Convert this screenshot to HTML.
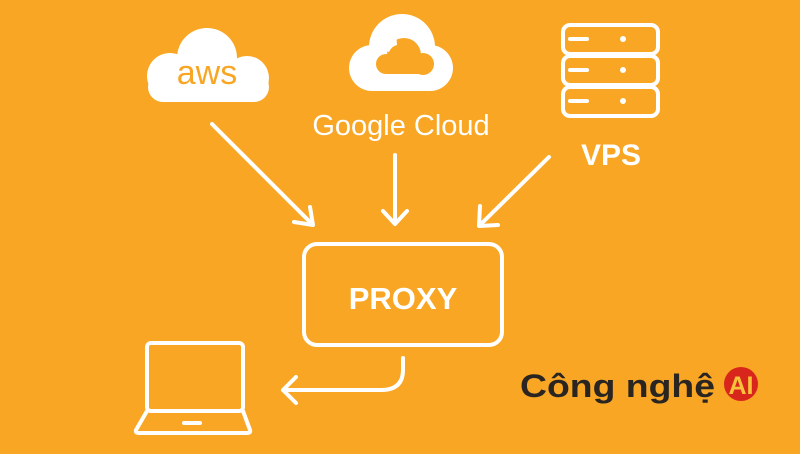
<!DOCTYPE html>
<html><head><meta charset="utf-8"><style>
html,body{margin:0;padding:0;background:#F8A623;}
svg{display:block}
</style></head><body>
<svg width="800" height="454" viewBox="0 0 800 454" xmlns="http://www.w3.org/2000/svg">
<rect width="800" height="454" fill="#F8A623"/>
<!-- AWS cloud -->
<g fill="#FFFFFF">
<circle cx="207" cy="58" r="30"/>
<circle cx="170" cy="76" r="23"/>
<circle cx="247" cy="78" r="22"/>
<rect x="148" y="72" width="121" height="30" rx="15"/>
</g>
<text x="207" y="84" font-family="Liberation Sans, sans-serif" font-size="34" fill="#F8A623" text-anchor="middle">aws</text>
<!-- Google cloud -->
<g fill="#FFFFFF">
<circle cx="402" cy="47" r="33"/>
<circle cx="372" cy="68" r="23"/>
<circle cx="430" cy="68" r="23"/>
<rect x="372" y="60" width="58" height="31"/>
</g>
<g fill="#F8A623">
<circle cx="404" cy="55" r="17"/>
<circle cx="386" cy="64" r="10"/>
<circle cx="423" cy="64" r="11"/>
<rect x="386" y="60" width="37" height="14"/>
</g>
<path d="M378 47 A26 26 0 0 1 396 32 L397 45 A12 12 0 0 0 389 52Z" fill="#FFFFFF"/>
<text x="401" y="135" font-family="Liberation Sans, sans-serif" font-size="29" fill="#FFFFFF" text-anchor="middle">Google Cloud</text>
<!-- Server -->
<g fill="none" stroke="#FFFFFF" stroke-width="4">
<rect x="563" y="25" width="95" height="29" rx="7"/>
<rect x="563" y="56" width="95" height="29" rx="7"/>
<rect x="563" y="87" width="95" height="29" rx="7"/>
</g>
<g stroke="#FFFFFF" stroke-width="4" stroke-linecap="round">
<line x1="570" y1="39" x2="587" y2="39"/><line x1="570" y1="70" x2="587" y2="70"/><line x1="570" y1="101" x2="587" y2="101"/>
</g>
<g fill="#FFFFFF"><circle cx="623" cy="39" r="3"/><circle cx="623" cy="70" r="3"/><circle cx="623" cy="101" r="3"/></g>
<text x="611" y="165" font-family="Liberation Sans, sans-serif" font-weight="bold" font-size="30" fill="#FFFFFF" text-anchor="middle">VPS</text>
<!-- arrows -->
<g fill="none" stroke="#FFFFFF" stroke-width="4" stroke-linecap="round" stroke-linejoin="round">
<line x1="212" y1="124" x2="312" y2="224"/>
<polyline points="294,222 313,225 310,207"/>
<line x1="395" y1="155" x2="395" y2="223"/>
<polyline points="383,211 395,224 407,211"/>
<line x1="549" y1="157" x2="481" y2="224"/>
<polyline points="480,206 479,226 498,225"/>
<rect x="304" y="244" width="198" height="101" rx="13"/>
<path d="M403 358 L403 370 Q403 390 381 390 L283 390"/>
<polyline points="296,377 283,390 296,403"/>
<rect x="147" y="343" width="96" height="68" rx="4"/>
<path d="M147 411 L136 430 Q135 433 139 433 L247 433 Q251 433 250 430 L243 411"/>
</g>
<line x1="184" y1="423" x2="200" y2="423" stroke="#FFFFFF" stroke-width="4" stroke-linecap="round"/>
<text x="403" y="309" font-family="Liberation Sans, sans-serif" font-weight="bold" font-size="31" fill="#FFFFFF" text-anchor="middle">PROXY</text>
<!-- logo -->
<text x="520" y="397" font-family="Liberation Sans, sans-serif" font-weight="bold" font-size="32" fill="#2B2522" textLength="195" lengthAdjust="spacingAndGlyphs">Công nghệ</text>
<circle cx="741" cy="384" r="17" fill="#D8261C"/>
<text x="741" y="394" font-family="Liberation Sans, sans-serif" font-weight="bold" font-size="25" fill="#F8C23A" text-anchor="middle">AI</text>
</svg>
</body></html>
